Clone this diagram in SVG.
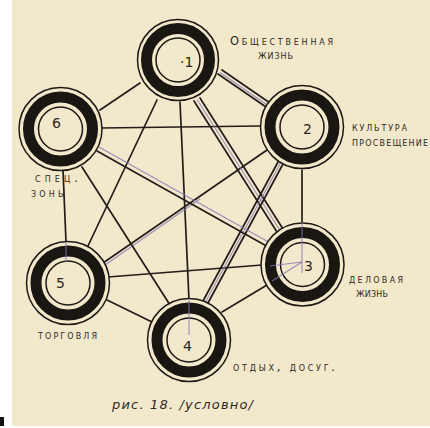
<svg xmlns="http://www.w3.org/2000/svg" width="430" height="428" viewBox="0 0 430 428">
<style>
.ln{stroke:#221d19;stroke-width:1.7;fill:none;stroke-linecap:round}
.pu{stroke:#8677b4;stroke-width:1.1;fill:none;opacity:0.8}
.o{fill:#f2e8cb;stroke:#1d1915;stroke-width:1.5}
.r{fill:none;stroke:#1a1612;stroke-width:11}
.i{fill:none;stroke:#1d1915;stroke-width:1.5}
.n{font-family:"DejaVu Sans",sans-serif;font-size:14px;fill:#2b2622}
.t{font-family:"DejaVu Sans",sans-serif;font-size:11.5px;font-variant:small-caps;fill:#2e2a26}
.c{font-family:"DejaVu Sans",sans-serif;font-style:italic;font-size:13px;fill:#2e2a26}
</style>
<rect x="0" y="0" width="430" height="428" fill="#ffffff"/>
<rect x="12" y="0" width="418" height="426" fill="#f2e8cb"/>
<rect x="0" y="417" width="4" height="9" fill="#111"/>
<g id="connectors">
<line class="ln" x1="140" y1="83" x2="100" y2="110"/>
<line class="ln" x1="157" y1="100" x2="87" y2="248"/>
<line class="ln" x1="180" y1="102" x2="189" y2="300"/>
<line class="ln" x1="100" y1="128" x2="260" y2="126"/>
<line class="ln" x1="302" y1="170" x2="302" y2="223"/>
<line class="ln" x1="267" y1="150" x2="103" y2="263"/>
<line class="pu" x1="200" y1="199" x2="105" y2="265"/>
<line class="ln" x1="82" y1="167" x2="170" y2="305"/>
<line class="ln" x1="63" y1="170" x2="66" y2="242"/>
<line class="ln" x1="108" y1="277" x2="262" y2="265"/>
<line class="ln" x1="103" y1="298" x2="152" y2="322"/>
<line class="ln" x1="267" y1="285" x2="222" y2="312"/>
<!-- double 1-2 -->
<line class="ln" x1="218" y1="74" x2="266" y2="107"/>
<line class="ln" x1="222" y1="70" x2="270" y2="103"/>
<line class="pu" x1="220" y1="72.5" x2="268" y2="105.5"/>
<!-- double 1-3 -->
<line class="ln" x1="194" y1="101" x2="277" y2="232"/>
<line class="ln" x1="200" y1="98" x2="283" y2="229"/>
<line class="pu" x1="197" y1="99.5" x2="280" y2="230.5"/>
<!-- double 2-4 -->
<line class="ln" x1="278" y1="162" x2="203" y2="301"/>
<line class="ln" x1="283" y1="164" x2="208" y2="303"/>
<line class="pu" x1="280.5" y1="163" x2="205.5" y2="302"/>
<!-- 3-6 black + purple -->
<line class="ln" x1="97" y1="151" x2="270" y2="248"/>
<line class="pu" x1="99" y1="147" x2="272" y2="244"/>
</g>
<g id="node1">
<circle class="o" cx="178" cy="60" r="40.5"/>
<circle class="r" cx="178" cy="60" r="31.5"/>
<circle class="i" cx="178" cy="60" r="22"/>
<text class="n" x="180" y="67">·1</text>
</g>
<g id="node2">
<circle class="o" cx="302" cy="127" r="41.5"/>
<circle class="r" cx="302" cy="127" r="32"/>
<circle class="i" cx="302" cy="127" r="22"/>
<text class="n" x="303" y="134">2</text>
</g>
<g id="node3">
<circle class="o" cx="302.5" cy="264.5" r="41.5"/>
<circle class="r" cx="302.5" cy="264.5" r="32"/>
<circle class="i" cx="302.5" cy="264.5" r="22"/>
<line class="pu" x1="302" y1="222" x2="302" y2="273"/>
<line class="pu" x1="302" y1="262" x2="270" y2="266"/>
<line class="pu" x1="302" y1="262" x2="272" y2="281"/>
<text class="n" x="304" y="271">3</text>
</g>
<g id="node4">
<circle class="o" cx="189" cy="340" r="41.5"/>
<circle class="r" cx="189" cy="340" r="32"/>
<circle class="i" cx="189" cy="340" r="22"/>
<line class="pu" x1="189" y1="300" x2="189" y2="335"/>
<text class="n" x="183" y="351">4</text>
</g>
<g id="node5">
<circle class="o" cx="68" cy="283" r="41.5"/>
<circle class="r" cx="68" cy="283" r="32"/>
<circle class="i" cx="68" cy="283" r="22"/>
<line class="pu" x1="66" y1="243" x2="66" y2="262"/>
<text class="n" x="56" y="288">5</text>
</g>
<g id="node6">
<circle class="o" cx="60.5" cy="129" r="41.5"/>
<circle class="r" cx="60.5" cy="129" r="32"/>
<circle class="i" cx="60.5" cy="129" r="22"/>
<text class="n" x="52" y="128">6</text>
</g>
<g id="labels">
<text class="t" x="230" y="45" textLength="103" lengthAdjust="spacing">Общественная</text>
<text class="t" x="258" y="59" textLength="35" lengthAdjust="spacing">жизнь</text>
<text class="t" x="352" y="131" textLength="55" lengthAdjust="spacing">культура</text>
<text class="t" x="352" y="145.5" textLength="76" lengthAdjust="spacing">просвещение</text>
<text class="t" x="35" y="182" textLength="43" lengthAdjust="spacing">спец.</text>
<text class="t" x="31" y="197" textLength="34" lengthAdjust="spacing">зоны</text>
<text class="t" x="349" y="283" textLength="54" lengthAdjust="spacing">деловая</text>
<text class="t" x="356" y="297" textLength="32" lengthAdjust="spacing">жизнь</text>
<text class="t" x="38" y="339" textLength="59" lengthAdjust="spacing">торговля</text>
<text class="t" x="233" y="371" textLength="102" lengthAdjust="spacing">отдых, досуг.</text>
<text class="c" x="112" y="409" textLength="141" lengthAdjust="spacing">рис. 18. /условно/</text>
</g>
</svg>
